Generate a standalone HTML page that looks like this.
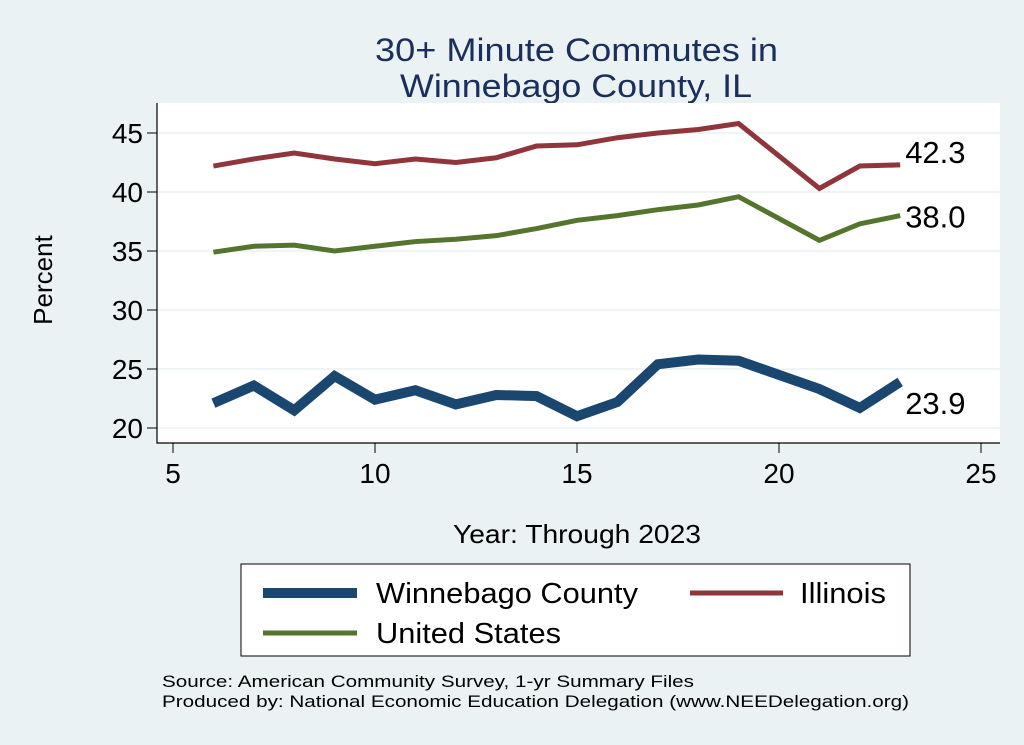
<!DOCTYPE html>
<html><head><meta charset="utf-8"><style>
body{margin:0;background:#eaf2f3;}
svg{display:block;font-family:"Liberation Sans",sans-serif;}
</style></head><body>
<svg id="chart" width="1024" height="745">
<rect x="0" y="0" width="1024" height="745" fill="#eaf2f3"/>
<text x="375" y="61" font-size="32" fill="#1a2f5a" textLength="403" lengthAdjust="spacingAndGlyphs">30+ Minute Commutes in</text>
<text x="400" y="97" font-size="32" fill="#1a2f5a" textLength="352" lengthAdjust="spacingAndGlyphs">Winnebago County, IL</text>
<rect x="157" y="103" width="843" height="340" fill="#ffffff"/>
<g id="grid"></g><g id="axes"></g><g id="series"></g><g id="labels"></g>
<text x="52" y="280" font-size="26" text-anchor="middle" transform="rotate(-90 52 280)">Percent</text>
<text x="453" y="543" font-size="26" textLength="248" lengthAdjust="spacingAndGlyphs">Year: Through 2023</text>
<rect x="241" y="564" width="669" height="92" fill="#ffffff" stroke="#000" stroke-width="1"/>
<g><line x1="263" y1="593" x2="357" y2="593" stroke="#1a476f" stroke-width="10"/><text x="376" y="603" font-size="29" textLength="262" lengthAdjust="spacingAndGlyphs">Winnebago County</text></g>
<g><line x1="690" y1="593" x2="783" y2="593" stroke="#90353b" stroke-width="5"/><text x="800" y="603" font-size="29" textLength="86" lengthAdjust="spacingAndGlyphs">Illinois</text></g>
<g><line x1="263" y1="633" x2="357" y2="633" stroke="#55752f" stroke-width="5"/><text x="376" y="643" font-size="29" textLength="185" lengthAdjust="spacingAndGlyphs">United States</text></g>
<text x="162" y="687" font-size="17" textLength="532" lengthAdjust="spacingAndGlyphs">Source: American Community Survey, 1-yr Summary Files</text>
<text x="162" y="707" font-size="17" textLength="747" lengthAdjust="spacingAndGlyphs">Produced by: National Economic Education Delegation (www.NEEDelegation.org)</text>
</svg>
<script>
const years=[6,7,8,9,10,11,12,13,14,15,16,17,18,19,21,22,23];
const winnebago=[22.1,23.6,21.5,24.4,22.4,23.2,22.0,22.8,22.7,21.0,22.2,25.4,25.8,25.7,23.3,21.7,23.9];
const illinois=[42.2,42.8,43.3,42.8,42.4,42.8,42.5,42.9,43.9,44.0,44.6,45.0,45.3,45.8,40.3,42.2,42.3];
const unitedStates=[34.9,35.4,35.5,35.0,35.4,35.8,36.0,36.3,36.9,37.6,38.0,38.5,38.9,39.6,35.9,37.3,38.0];
const xTicks=[5,10,15,20,25];
const yTicks=[20,25,30,35,40,45];
const NS='http://www.w3.org/2000/svg';
const xs=v=>173+(v-5)*(981-173)/20;
const ys=v=>428-(v-20)*(428-133)/25;
function mk(tag,attrs,parent){const e=document.createElementNS(NS,tag);for(const k in attrs)e.setAttribute(k,attrs[k]);document.getElementById(parent).appendChild(e);return e;}
yTicks.forEach(t=>{
 const g=mk('line',{x1:157,x2:1000,y1:ys(t),y2:ys(t),stroke:'#eaf2f3','stroke-width':1.5},'grid');
 
 
 const tk=mk('line',{x1:147,x2:157,y1:ys(t),y2:ys(t),stroke:'#000'},'axes');
 
 
 const tx=mk('text',{x:143,y:ys(t)+10,'font-size':28,'text-anchor':'end'},'axes');tx.textContent=t;
 
 
});
xTicks.forEach(t=>{
 const tk=mk('line',{x1:xs(t),x2:xs(t),y1:443,y2:453,stroke:'#000'},'axes');
 
 
 const tx=mk('text',{x:xs(t),y:483,'font-size':28,'text-anchor':'middle'},'axes');tx.textContent=t;
 
 
});
const ax=mk('path',{d:'M157 103V443H1000',fill:'none',stroke:'#000','stroke-width':1.2},'axes');


function line(vals,color,w,name,dy){
 const p=mk('polyline',{points:years.map((y,i)=>xs(y)+','+ys(vals[i])).join(' '),fill:'none',stroke:color,'stroke-width':w,'stroke-linejoin':'miter'},'series');
 
 
 const n=vals.length-1;
 const t=mk('text',{x:xs(years[n])+5,y:ys(vals[n])+dy,'font-size':31},'labels');
 t.textContent=vals[n].toFixed(1);
 
 
}
line(unitedStates,'#55752f',5,'us-line',12);
line(illinois,'#90353b',5,'illinois-line',-2);
line(winnebago,'#1a476f',10,'winnebago-line',32);
</script>
</body></html>
